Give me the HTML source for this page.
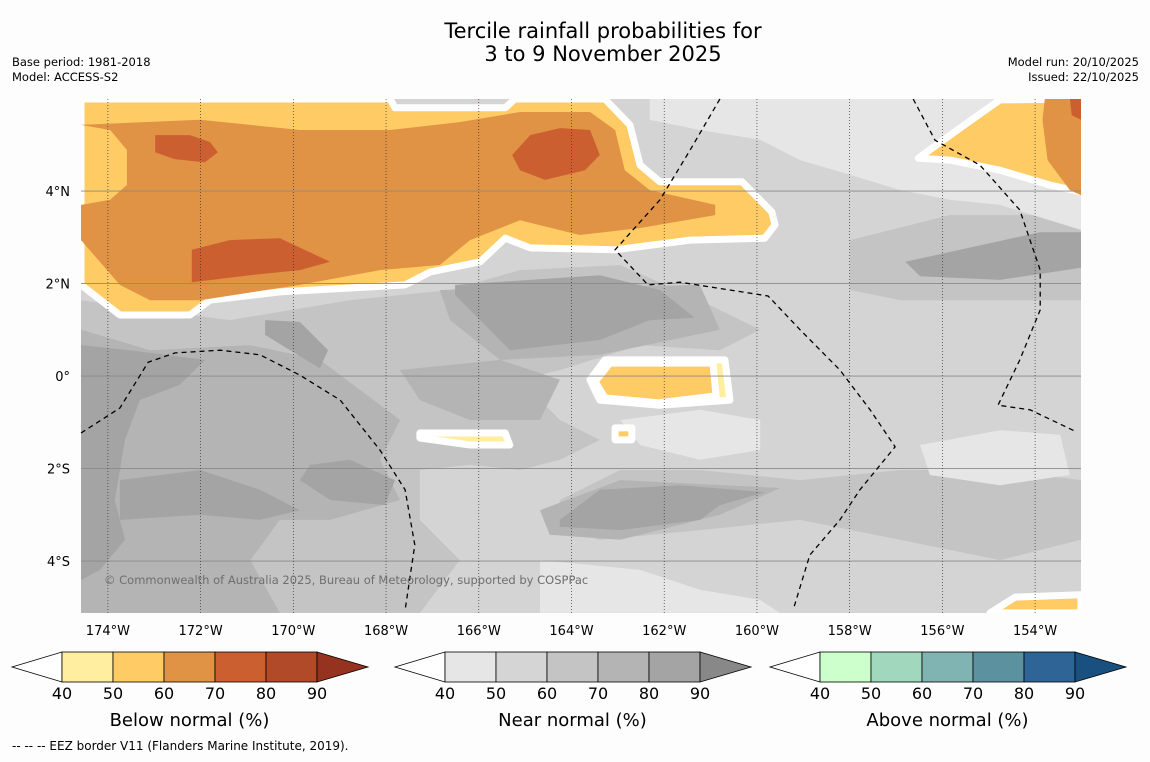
<!DOCTYPE html>
<html><head><meta charset="utf-8">
<style>
body{margin:0;background:#fdfdfd;font-family:"DejaVu Sans",sans-serif;}
svg text{font-family:"DejaVu Sans",sans-serif;}
</style></head>
<body>
<svg id="chart" width="1150" height="758" viewBox="0 0 1150 758" xmlns="http://www.w3.org/2000/svg">
<rect width="1150" height="758" fill="#fdfdfd"/>
<text x="603" y="38" font-size="21" text-anchor="middle">Tercile rainfall probabilities for</text>
<text x="603" y="61" font-size="21" text-anchor="middle">3 to 9 November 2025</text>
<text x="12" y="66" font-size="11.5">Base period: 1981-2018</text>
<text x="12" y="81" font-size="11.5">Model: ACCESS-S2</text>
<text x="1139" y="66" font-size="11.5" text-anchor="end">Model run: 20/10/2025</text>
<text x="1139" y="81" font-size="11.5" text-anchor="end">Issued: 22/10/2025</text>
<defs><clipPath id="mapclip"><rect x="81" y="99" width="1000" height="514"/></clipPath></defs>
<g id="map" clip-path="url(#mapclip)">
<rect x="81" y="99" width="1000" height="514" fill="#d4d4d4"/>
</g>
<g id="overlay"></g>
<text x="104" y="584" font-size="11.5" fill="#6e6e6e">© Commonwealth of Australia 2025, Bureau of Meteorology, supported by COSPPac</text>
<g id="bars"></g>
<text x="12" y="750" font-size="12">--  --  -- EEZ border V11 (Flanders Marine Institute, 2019).</text>
</svg>
<script>
const lonTicks=[-174,-172,-170,-168,-166,-164,-162,-160,-158,-156,-154];
const latTicks=[4,2,0,-2,-4];
const barLevels=[40,50,60,70,80,90];
const bnColors=["#ffeda0","#fecb65","#e09245","#cb5f2f","#b04a28","#963220"];
const nnColors=["#e6e6e6","#d5d5d5","#c4c4c4","#b4b4b4","#a4a4a4","#888888"];
const anColors=["#ccffcc","#a1d8bd","#7fb4b2","#5c929f","#2f6496","#19507f"];
const barTitles=["Below normal (%)","Near normal (%)","Above normal (%)"];
const nn60=[
[[-174.58,1.64],[-171.37,1.21],[-168.78,1.64],[-166.62,1.86],[-165.11,2.29],[-162.95,2.4],[-161.23,1.64],[-159.93,1.0],[-160.8,0.56],[-162.52,0.67],[-164.25,0.13],[-165.11,-0.08],[-164.25,-0.95],[-163.39,-1.38],[-164.25,-1.81],[-165.11,-2.03],[-166.19,-1.92],[-167.27,-2.03],[-167.27,-3.11],[-166.41,-3.98],[-167.27,-5.12],[-174.58,-5.12]],
[[-157.99,2.94],[-155.84,3.48],[-153.01,3.48],[-153.01,1.64],[-154.76,1.64],[-156.91,1.64],[-157.99,1.86]],
[[-164.25,-2.68],[-162.95,-2.03],[-161.23,-2.03],[-159.07,-2.25],[-156.91,-2.03],[-154.76,-2.03],[-153.01,-2.25],[-153.01,-3.54],[-154.76,-3.98],[-156.91,-3.54],[-159.07,-3.11],[-161.23,-3.33],[-163.39,-3.54],[-164.25,-3.33]]];
const nn40=[
[[-162.31,5.99],[-153.01,5.99],[-153.01,3.16],[-154.76,3.7],[-155.84,3.81],[-156.91,4.02],[-157.99,4.35],[-159.07,4.67],[-159.93,5.11],[-161.23,5.32],[-162.31,5.54]],
[[-164.68,-3.98],[-162.52,-4.19],[-161.23,-4.62],[-159.93,-4.84],[-159.5,-5.12],[-164.68,-5.12]],
[[-162.95,-0.95],[-161.23,-0.73],[-159.93,-0.95],[-159.93,-1.6],[-161.23,-1.81],[-162.52,-1.49]],
[[-156.48,-1.49],[-154.76,-1.17],[-153.46,-1.27],[-153.25,-2.14],[-154.76,-2.36],[-156.27,-2.14]]];
const nn70=[
[[-174.58,1.0],[-173.09,0.56],[-170.93,0.67],[-169.43,0.35],[-168.56,-0.3],[-167.7,-0.95],[-168.13,-1.81],[-167.7,-2.68],[-169.21,-3.11],[-170.29,-3.11],[-170.93,-3.98],[-170.29,-5.12],[-174.58,-5.12]],
[[-167.7,0.13],[-165.54,0.35],[-164.25,-0.08],[-164.68,-0.95],[-166.19,-0.95],[-167.27,-0.52]],
[[-166.84,1.86],[-161.23,1.97],[-160.8,1.0],[-163.39,0.46],[-165.54,0.35],[-166.62,1.21]],
[[-164.68,-2.9],[-162.95,-2.25],[-159.5,-2.42],[-160.8,-3.0],[-162.95,-3.54],[-164.47,-3.43]]];
const nn80=[
[[-166.51,1.97],[-164.89,2.08],[-163.39,2.18],[-162.09,1.86],[-161.34,1.26],[-162.31,1.21],[-163.39,0.78],[-165.33,0.56],[-165.97,1.21],[-166.51,1.75]],
[[-164.25,-3.11],[-163.39,-2.46],[-161.66,-2.36],[-159.83,-2.51],[-160.8,-2.79],[-161.23,-3.11],[-162.95,-3.33],[-164.25,-3.26]],
[[-156.8,2.47],[-155.62,2.73],[-153.89,3.11],[-153.01,3.11],[-153.01,2.34],[-154.76,2.08],[-156.48,2.16]],
[[-174.58,0.67],[-173.52,0.56],[-171.9,0.35],[-172.45,-0.19],[-173.31,-0.52],[-173.63,-1.38],[-173.85,-2.68],[-173.63,-3.54],[-174.17,-4.19],[-174.58,-4.41]],
[[-173.74,-2.25],[-172.01,-2.03],[-170.72,-2.46],[-169.86,-2.9],[-170.72,-3.11],[-172.01,-3.0],[-173.74,-3.11]],
[[-170.61,1.21],[-169.86,1.17],[-169.25,0.56],[-169.43,0.17],[-170.07,0.56],[-170.61,0.89]],
[[-169.64,-1.92],[-168.78,-1.81],[-167.81,-2.25],[-168.02,-2.79],[-169.21,-2.68],[-169.86,-2.25]]];
const bn40=[
[[-163.6,-0.08],[-163.28,0.35],[-160.69,0.35],[-160.58,-0.52],[-162.09,-0.63],[-163.39,-0.52]],
[[-167.27,-1.23],[-165.43,-1.23],[-165.33,-1.49],[-166.19,-1.49],[-167.27,-1.34]]];
const bn50=[
[[-174.58,5.99],[-167.91,5.99],[-167.81,5.8],[-165.43,5.8],[-165.22,5.99],[-163.28,5.99],[-162.74,5.43],[-162.52,4.56],[-162.09,4.2],[-160.32,4.2],[-159.68,3.55],[-159.61,3.27],[-159.83,2.98],[-161.44,2.94],[-163.06,2.73],[-164.89,2.77],[-165.43,2.98],[-165.97,2.47],[-167.05,2.25],[-167.59,1.97],[-170.29,1.82],[-171.8,1.64],[-172.23,1.32],[-173.74,1.32],[-174.58,1.97]],
[[-156.52,4.71],[-155.62,5.36],[-154.76,5.97],[-153.01,5.99],[-153.01,3.98],[-153.68,4.13],[-154.76,4.45],[-155.84,4.67]],
[[-154.97,-5.12],[-154.43,-4.78],[-153.01,-4.73],[-153.01,-5.12]],
[[-163.49,-0.12],[-163.17,0.28],[-160.95,0.28],[-160.88,-0.43],[-162.13,-0.58],[-163.28,-0.47]],
[[-163.06,-1.12],[-162.7,-1.12],[-162.7,-1.38],[-163.06,-1.38]]];
const bn60=[
[[-174.58,5.43],[-172.01,5.54],[-169.86,5.32],[-167.91,5.32],[-166.41,5.49],[-165.11,5.71],[-163.6,5.71],[-163.06,5.32],[-162.85,4.45],[-162.31,4.02],[-160.9,3.7],[-160.9,3.48],[-162.52,3.2],[-163.82,3.05],[-165.11,3.37],[-166.19,2.94],[-166.84,2.4],[-168.13,2.29],[-169.86,1.97],[-172.01,1.64],[-173.09,1.64],[-173.74,1.97],[-174.58,2.94],[-174.58,3.7],[-173.95,3.81],[-173.59,4.13],[-173.59,4.89],[-173.95,5.32]],
[[-153.79,5.99],[-153.01,5.99],[-153.01,3.91],[-153.25,4.02],[-153.73,4.67],[-153.84,5.54]]];
const bn70=[
[[-172.98,5.21],[-172.23,5.21],[-171.8,5.06],[-171.63,4.84],[-171.91,4.62],[-172.56,4.69],[-172.98,4.84]],
[[-165.28,4.78],[-164.89,5.21],[-164.25,5.36],[-163.6,5.32],[-163.39,4.78],[-163.71,4.45],[-164.57,4.24],[-165.11,4.45]],
[[-172.19,2.73],[-171.37,2.94],[-170.29,2.98],[-169.21,2.47],[-169.86,2.29],[-170.94,2.18],[-172.19,2.03]],
[[-153.25,5.99],[-153.01,5.99],[-153.01,5.54],[-153.21,5.64]]];
const eezLines=[
[[-174.58,-1.23],[-173.74,-0.69],[-173.13,0.3],[-172.55,0.5],[-171.58,0.56],[-170.72,0.46],[-169.86,0.02],[-168.99,-0.52],[-168.13,-1.6],[-167.59,-2.46],[-167.38,-3.65],[-167.59,-5.06]],
[[-160.8,5.99],[-161.44,4.89],[-162.09,3.81],[-163.06,2.73],[-162.35,1.97],[-161.66,2.03],[-159.76,1.73],[-159.07,1.0],[-158.21,0.13],[-157.56,-0.73],[-157.02,-1.53],[-157.78,-2.46],[-158.21,-3.11],[-158.86,-3.87],[-159.22,-5.06]],
[[-156.63,5.99],[-156.16,5.1],[-155.19,4.56],[-154.33,3.59],[-153.89,2.29],[-153.89,1.43],[-154.33,0.35],[-154.8,-0.63],[-154.11,-0.73],[-153.1,-1.21]]];

const NS="http://www.w3.org/2000/svg";
const xS=lon=>81+(lon+174.58)/0.02157;
const yS=lat=>99+(5.99-lat)/0.02162;
const ptsStr=p=>p.map(v=>xS(v[0]).toFixed(1)+","+yS(v[1]).toFixed(1)).join(" ");
const map=document.getElementById('map');
function drawSet(set,fill,name,border){
  set.forEach((poly,i)=>{
    const el=document.createElementNS(NS,'polygon');
    el.setAttribute('points',ptsStr(poly));
    el.setAttribute('fill',fill);
    if(border){el.setAttribute('stroke','#ffffff');el.setAttribute('stroke-width','7');el.setAttribute('stroke-linejoin','round');}
    
    
    map.appendChild(el);
  });
}
drawSet(nn60,nnColors[2],'near-normal-60-70');
drawSet(nn40,nnColors[0],'near-normal-40-50');
drawSet(nn70,nnColors[3],'near-normal-70-80');
drawSet(nn80,nnColors[4],'near-normal-80-90');
drawSet(bn40,bnColors[0],'below-normal-40-50',true);
drawSet(bn50,bnColors[1],'below-normal-50-60',true);
drawSet(bn60,bnColors[2],'below-normal-60-70');
drawSet(bn70,bnColors[3],'below-normal-70-80');
const ov=document.getElementById('overlay');
latTicks.forEach(l=>{
  const ln=document.createElementNS(NS,'line');
  ln.setAttribute('x1',81);ln.setAttribute('x2',1081);ln.setAttribute('y1',yS(l));ln.setAttribute('y2',yS(l));
  ln.setAttribute('stroke','#8a8a8a');ln.setAttribute('stroke-width','0.8');
  
  
  ov.appendChild(ln);
  const t=document.createElementNS(NS,'text');
  t.setAttribute('x',70);t.setAttribute('y',yS(l)+5);t.setAttribute('font-size','13');t.setAttribute('text-anchor','end');
  t.textContent=l===0?'0°':(Math.abs(l)+'°'+(l>0?'N':'S'));
  
  
  ov.appendChild(t);
});
lonTicks.forEach(l=>{
  const ln=document.createElementNS(NS,'line');
  ln.setAttribute('x1',xS(l));ln.setAttribute('x2',xS(l));ln.setAttribute('y1',99);ln.setAttribute('y2',613);
  ln.setAttribute('stroke','#333');ln.setAttribute('stroke-width','0.7');ln.setAttribute('stroke-dasharray','1,2');
  
  
  ov.appendChild(ln);
  const t=document.createElementNS(NS,'text');
  t.setAttribute('x',xS(l));t.setAttribute('y',635);t.setAttribute('font-size','13');t.setAttribute('text-anchor','middle');
  t.textContent=Math.abs(l)+'°W';
  
  
  ov.appendChild(t);
});
eezLines.forEach(line=>{
  const pl=document.createElementNS(NS,'polyline');
  pl.setAttribute('points',ptsStr(line));
  pl.setAttribute('fill','none');pl.setAttribute('stroke','#000');pl.setAttribute('stroke-width','1.3');pl.setAttribute('stroke-dasharray','5,4');
  
  
  ov.appendChild(pl);
});
const bars=document.getElementById('bars');
const barStarts=[12,395,770];
[bnColors,nnColors,anColors].forEach((cols,bi)=>{
  const x0=barStarts[bi], bx=x0+50, w=51, y0=652, h=30;
  const g=document.createElementNS(NS,'g');
  
  
  bars.appendChild(g);
  const lt=document.createElementNS(NS,'polygon');
  lt.setAttribute('points',`${x0},${y0+h/2} ${bx},${y0} ${bx},${y0+h}`);
  lt.setAttribute('fill','#fff');lt.setAttribute('stroke','#000');lt.setAttribute('stroke-width','0.8');
  
  
  g.appendChild(lt);
  for(let i=0;i<5;i++){
    const r=document.createElementNS(NS,'rect');
    r.setAttribute('x',bx+i*w);r.setAttribute('y',y0);r.setAttribute('width',w);r.setAttribute('height',h);
    r.setAttribute('fill',cols[i]);r.setAttribute('stroke','#000');r.setAttribute('stroke-width','0.8');
    
    
    g.appendChild(r);
  }
  const ex=bx+5*w;
  const rt=document.createElementNS(NS,'polygon');
  rt.setAttribute('points',`${ex},${y0} ${ex+51},${y0+h/2} ${ex},${y0+h}`);
  rt.setAttribute('fill',cols[5]);rt.setAttribute('stroke','#000');rt.setAttribute('stroke-width','0.8');
  
  
  g.appendChild(rt);
  barLevels.forEach((v,i)=>{
    const t=document.createElementNS(NS,'text');
    t.setAttribute('x',bx+i*w);t.setAttribute('y',699);t.setAttribute('font-size','16');t.setAttribute('text-anchor','middle');
    t.textContent=v;
    
    
    g.appendChild(t);
  });
  const tt=document.createElementNS(NS,'text');
  tt.setAttribute('x',bx+2.5*w);tt.setAttribute('y',726);tt.setAttribute('font-size','18');tt.setAttribute('text-anchor','middle');
  tt.textContent=barTitles[bi];
  
  
  g.appendChild(tt);
});
</script>
</body></html>
